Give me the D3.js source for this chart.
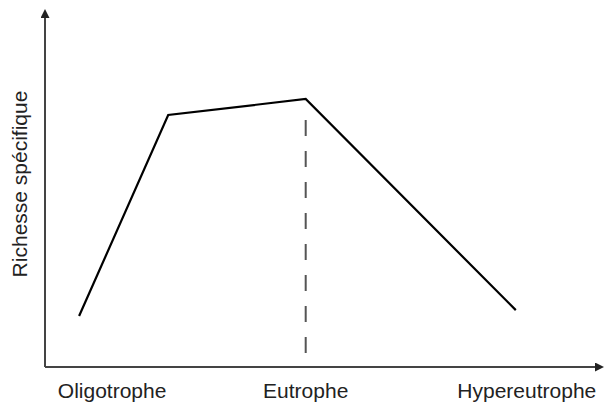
<!DOCTYPE html>
<html>
<head>
<meta charset="utf-8">
<script src="https://cdn.jsdelivr.net/npm/d3@7"></script>
<style>
  body { margin: 0; background: #fff; }
  svg { display: block; }
  text { font-family: "Liberation Sans", Arial, sans-serif; fill: #222; }
</style>
</head>
<body>
<div id="chart"></div>
<script>
// trophic gradient position (0-100) and species richness (0-100)
const gradient = [6.2, 22.4, 47.4, 85.6];
const richness = [14.6, 72.2, 76.8, 16.3];

const categories = ["Oligotrophe", "Eutrophe", "Hypereutrophe"];
const categoryPos = [12.2, 47.4, 87.6];

const dashedAt = 47.4;
const dashedTop = 70.8;

const yTitle = "Richesse spécifique";

const width = 606, height = 403;

const svg = d3.select("#chart")
    .append("svg")
    .attr("width", width)
    .attr("height", height);

const x = d3.scaleLinear().domain([0, 100]).range([45, 595]);
const y = d3.scaleLinear().domain([0, 100]).range([367, 18]);

const defs = svg.append("defs");
defs.append("marker")
    .attr("id", "arrow")
    .attr("viewBox", "0 0 10 10")
    .attr("refX", 0)
    .attr("refY", 5)
    .attr("markerUnits", "userSpaceOnUse")
    .attr("markerWidth", 10)
    .attr("markerHeight", 9)
    .attr("orient", "auto")
    .append("path")
    .attr("d", "M0,0 L10,5 L0,10 Z")
    .attr("fill", "#222");

// axes
svg.append("line")
    .attr("x1", x(0)).attr("y1", y(0))
    .attr("x2", x(100)).attr("y2", y(0))
    .attr("stroke", "#444")
    .attr("stroke-width", 2)
    .attr("marker-end", "url(#arrow)");

svg.append("line")
    .attr("x1", x(0)).attr("y1", y(0))
    .attr("x2", x(0)).attr("y2", y(100))
    .attr("stroke", "#444")
    .attr("stroke-width", 2)
    .attr("marker-end", "url(#arrow)");

// dashed guide
svg.append("line")
    .attr("x1", x(dashedAt)).attr("y1", y(dashedTop))
    .attr("x2", x(dashedAt)).attr("y2", y(0))
    .attr("stroke", "#555")
    .attr("stroke-width", 2)
    .attr("stroke-dasharray", "16,15");

// curve
const pts = gradient.map((g, i) => [g, richness[i]]);
svg.append("path")
    .datum(pts)
    .attr("d", d3.line().x(d => x(d[0])).y(d => y(d[1])))
    .attr("fill", "none")
    .attr("stroke", "#000")
    .attr("stroke-width", 2.2)
    .attr("stroke-linejoin", "miter");

// category labels
svg.selectAll(".cat")
    .data(categories)
    .enter().append("text")
    .attr("class", "cat")
    .attr("x", (d, i) => x(categoryPos[i]))
    .attr("y", 398)
    .attr("text-anchor", "middle")
    .style("font-size", "21px")
    .text(d => d);

svg.append("text")
    .attr("transform", "translate(27, 184) rotate(-90)")
    .attr("text-anchor", "middle")
    .style("font-size", "21px")
    .text(yTitle);
</script>
</body>
</html>
